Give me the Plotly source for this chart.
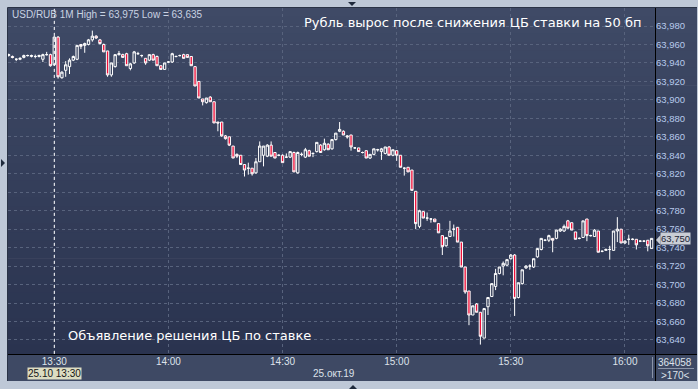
import pandas as pd
import plotly.graph_objects as go

# ---------------- data (1-minute candles, USD/RUB, 25.10.2019 13:18 - 16:07) ----------------
start_time = "2019-10-25 13:18"
opens = [63.948,63.947,63.944,63.944,63.946,63.948,63.947,63.947,63.947,63.944,
         63.949,63.949,63.938,63.968,63.924,63.932,63.936,63.943,63.944,63.960,
         63.959,63.960,63.965,63.969,63.965,63.960,63.953,63.927,63.936,63.949,
         63.949,63.950,63.934,63.940,63.950,63.948,63.945,63.943,63.949,63.947,
         63.937,63.933,63.941,63.941,63.947,63.948,63.949,63.949,63.947,63.936,
         63.920,63.901,63.897,63.903,63.898,63.876,63.876,63.861,63.860,63.850,
         63.841,63.840,63.830,63.826,63.826,63.821,63.833,63.840,63.839,63.851,
         63.843,63.840,63.840,63.838,63.838,63.843,63.821,63.841,63.838,63.845,
         63.842,63.844,63.851,63.846,63.852,63.847,63.857,63.866,63.866,63.861,
         63.862,63.848,63.848,63.843,63.845,63.837,63.841,63.846,63.844,63.842,
         63.849,63.840,63.845,63.840,63.826,63.827,63.824,63.801,63.763,63.779,
         63.772,63.771,63.771,63.766,63.753,63.742,63.752,63.760,63.762,63.746,
         63.719,63.693,63.667,63.679,63.670,63.642,63.676,63.687,63.698,63.712,
         63.720,63.721,63.728,63.732,63.686,63.701,63.718,63.720,63.719,63.730,
         63.738,63.748,63.748,63.750,63.750,63.758,63.758,63.769,63.767,63.757,
         63.750,63.751,63.771,63.753,63.752,63.758,63.736,63.737,63.738,63.737,
         63.758,63.760,63.745,63.749,63.749,63.749,63.747,63.747,63.748,63.739]
highs = [63.950,63.948,63.945,63.946,63.949,63.949,63.949,63.949,63.949,63.950,
         63.952,63.950,63.969,63.969,63.931,63.942,63.945,63.948,63.959,63.960,
         63.962,63.966,63.975,63.970,63.966,63.961,63.953,63.940,63.949,63.953,
         63.950,63.951,63.940,63.953,63.952,63.949,63.945,63.949,63.950,63.948,
         63.937,63.940,63.942,63.951,63.948,63.949,63.950,63.949,63.947,63.936,
         63.920,63.901,63.902,63.904,63.898,63.876,63.876,63.862,63.860,63.850,
         63.842,63.840,63.830,63.832,63.826,63.837,63.855,63.850,63.852,63.855,
         63.843,63.841,63.841,63.842,63.844,63.844,63.844,63.843,63.848,63.846,
         63.843,63.854,63.852,63.858,63.853,63.857,63.864,63.876,63.867,63.862,
         63.862,63.849,63.848,63.844,63.845,63.841,63.847,63.847,63.848,63.849,
         63.850,63.846,63.845,63.840,63.827,63.827,63.824,63.801,63.781,63.779,
         63.778,63.772,63.771,63.766,63.753,63.751,63.769,63.765,63.762,63.746,
         63.719,63.693,63.677,63.680,63.670,63.674,63.686,63.701,63.717,63.719,
         63.725,63.727,63.733,63.733,63.702,63.716,63.721,63.722,63.728,63.739,
         63.750,63.749,63.754,63.750,63.759,63.761,63.765,63.770,63.767,63.757,
         63.751,63.769,63.771,63.754,63.760,63.758,63.737,63.739,63.742,63.758,
         63.773,63.760,63.748,63.754,63.750,63.749,63.748,63.748,63.748,63.750]
lows = [63.947,63.945,63.942,63.943,63.945,63.947,63.946,63.945,63.946,63.941,
        63.948,63.936,63.937,63.923,63.923,63.925,63.928,63.942,63.943,63.955,
        63.951,63.959,63.963,63.966,63.960,63.952,63.925,63.925,63.935,63.948,
        63.946,63.937,63.932,63.939,63.949,63.946,63.938,63.942,63.943,63.937,
        63.933,63.933,63.940,63.940,63.946,63.947,63.945,63.946,63.937,63.915,
        63.902,63.894,63.896,63.898,63.875,63.866,63.860,63.857,63.850,63.837,
        63.837,63.830,63.817,63.819,63.818,63.820,63.833,63.828,63.838,63.839,
        63.837,63.839,63.832,63.837,63.837,63.822,63.820,63.839,63.837,63.839,
        63.838,63.843,63.843,63.845,63.846,63.846,63.856,63.865,63.862,63.858,
        63.845,63.847,63.844,63.842,63.837,63.836,63.840,63.844,63.835,63.841,
        63.840,63.839,63.834,63.827,63.818,63.822,63.802,63.760,63.761,63.772,
        63.769,63.767,63.768,63.756,63.732,63.741,63.752,63.752,63.746,63.719,
        63.690,63.656,63.667,63.670,63.635,63.642,63.667,63.687,63.694,63.711,
        63.710,63.720,63.727,63.666,63.685,63.700,63.717,63.716,63.718,63.729,
        63.737,63.747,63.746,63.735,63.749,63.757,63.757,63.761,63.759,63.749,
        63.749,63.751,63.747,63.752,63.752,63.735,63.735,63.737,63.727,63.737,
        63.746,63.745,63.744,63.743,63.748,63.738,63.746,63.746,63.736,63.739]
closes = [63.949,63.946,63.944,63.945,63.948,63.948,63.948,63.947,63.948,63.949,
          63.949,63.937,63.968,63.925,63.930,63.938,63.943,63.947,63.959,63.958,
          63.961,63.965,63.969,63.967,63.961,63.952,63.927,63.940,63.949,63.950,
          63.946,63.937,63.939,63.952,63.950,63.948,63.940,63.949,63.943,63.937,
          63.933,63.940,63.941,63.950,63.947,63.948,63.945,63.946,63.937,63.915,
          63.902,63.898,63.902,63.898,63.875,63.875,63.861,63.858,63.851,63.837,
          63.839,63.830,63.824,63.826,63.820,63.833,63.850,63.850,63.851,63.839,
          63.837,63.840,63.832,63.838,63.844,63.822,63.843,63.841,63.846,63.839,
          63.842,63.854,63.843,63.853,63.846,63.857,63.864,63.868,63.862,63.860,
          63.849,63.848,63.844,63.843,63.837,63.841,63.847,63.846,63.847,63.849,
          63.840,63.846,63.840,63.827,63.826,63.822,63.802,63.766,63.780,63.772,
          63.772,63.771,63.768,63.756,63.741,63.751,63.758,63.760,63.746,63.719,
          63.692,63.667,63.677,63.670,63.644,63.674,63.686,63.701,63.712,63.719,
          63.723,63.727,63.732,63.685,63.702,63.716,63.720,63.720,63.728,63.739,
          63.750,63.748,63.753,63.748,63.759,63.760,63.763,63.761,63.759,63.749,
          63.750,63.769,63.753,63.753,63.759,63.735,63.736,63.738,63.738,63.758,
          63.760,63.745,63.747,63.749,63.749,63.743,63.747,63.747,63.742,63.750]

title_text = "Рубль вырос после снижения ЦБ ставки на 50 бп"
header_text = "USD/RUB 1M High = 63,975 Low = 63,635"
event_text = "Объявление решения ЦБ по ставке"
event_time = "2019-10-25 13:30"
last_price = 63.750
last_price_label = "63,750"
date_label = "25.окт.19"
cursor_label = "25.10 13:30"
volume_label = "364058"
count_label = ">170<"

times = pd.date_range(start_time, periods=len(opens), freq="min")

# ---------------- geometry helpers (pixels -> paper) ----------------
W, H = 698, 389
L, R, T, B = 8, 655, 8, 354
def px(x):
    return (x - L) / (R - L)
def py(y):
    return (B - y) / (B - T)

fig = go.Figure()
fig.add_trace(go.Candlestick(
    x=times, open=opens, high=highs, low=lows, close=closes,
    increasing=dict(line=dict(color="white", width=1), fillcolor="rgba(0,0,0,0)"),
    decreasing=dict(line=dict(color="white", width=1), fillcolor="#f0103a"),
    hoverinfo="skip", showlegend=False,
))

shapes = []
# gradient background of chart + price-axis area
n = 40
top_c = (63, 74, 102)
bot_c = (42, 51, 79)
for k in range(n):
    y0 = T + (B - T) * k / n
    y1 = T + (B - T) * (k + 1) / n
    f = (k + 0.5) / n
    c = tuple(int(round(top_c[j] + (bot_c[j] - top_c[j]) * f)) for j in range(3))
    shapes.append(dict(type="rect", xref="paper", yref="paper", layer="below",
                       x0=px(L), x1=px(697), y0=py(y1), y1=py(y0) + 0.002,
                       fillcolor="rgb(%d,%d,%d)" % c, line=dict(width=0)))
# time-axis band
shapes.append(dict(type="rect", xref="paper", yref="paper", layer="below",
                   x0=px(L), x1=px(697), y0=py(381), y1=py(B),
                   fillcolor="#3e4964", line=dict(width=0)))
# frame inner border
shapes.append(dict(type="line", xref="paper", yref="paper", layer="below",
                   x0=px(7.5), x1=px(7.5), y0=py(381), y1=py(7.5),
                   line=dict(color="#2a3346", width=1)))
shapes.append(dict(type="line", xref="paper", yref="paper", layer="below",
                   x0=px(7.5), x1=px(697), y0=py(7.5), y1=py(7.5),
                   line=dict(color="#2a3346", width=1)))
# black axis lines
shapes.append(dict(type="line", xref="paper", yref="paper", layer="above",
                   x0=px(655.5), x1=px(655.5), y0=py(381), y1=py(8),
                   line=dict(color="black", width=1)))
shapes.append(dict(type="line", xref="paper", yref="paper", layer="above",
                   x0=px(8), x1=px(697), y0=py(354.5), y1=py(354.5),
                   line=dict(color="black", width=1)))
# bottom-right info box
shapes.append(dict(type="line", xref="paper", yref="paper", layer="above",
                   x0=px(652.5), x1=px(652.5), y0=py(378), y1=py(357),
                   line=dict(color="#8a94a8", width=1)))
shapes.append(dict(type="line", xref="paper", yref="paper", layer="above",
                   x0=px(658), x1=px(694), y0=py(368.5), y1=py(368.5),
                   line=dict(color="#8a94a8", width=1)))
# event line at 13:30
shapes.append(dict(type="line", xref="x", yref="paper", layer="above",
                   x0=event_time, x1=event_time, y0=0, y1=1,
                   line=dict(color="white", width=1, dash="dot")))
# last price arrow
shapes.append(dict(type="path", xref="paper", yref="paper", layer="above",
                   path="M %f %f L %f %f L %f %f Z" % (px(656), py(240), px(660.5), py(235), px(660.5), py(245)),
                   fillcolor="#c9cdd5", line=dict(width=0)))
# small dark triangles on the frame
def tri(points):
    return dict(type="path", xref="paper", yref="paper", layer="above",
                path="M " + " L ".join("%f %f" % (px(a), py(b)) for a, b in points) + " Z",
                fillcolor="#1f2a3c", line=dict(width=0))
shapes.append(tri([(348, 2), (356, 2), (352, 6)]))
shapes.append(tri([(1, 159), (1, 167), (5, 163)]))
shapes.append(tri([(349, 389), (357, 389), (353, 385)]))

annotations = [
    dict(text=header_text, xref="paper", yref="paper", x=px(10), y=py(15),
         xanchor="left", yanchor="middle", showarrow=False,
         font=dict(family="Liberation Sans, Arial", size=10, color="#c9d2e2")),
    dict(text=title_text, xref="paper", yref="paper", x=px(644), y=py(22.5),
         xanchor="right", yanchor="middle", showarrow=False,
         font=dict(family="DejaVu Sans", size=13, color="white")),
    dict(text=event_text, xref="paper", yref="paper", x=px(66), y=py(335.5),
         xanchor="left", yanchor="middle", showarrow=False,
         font=dict(family="DejaVu Sans", size=13, color="white")),
    dict(text=last_price_label, xref="paper", yref="y", x=px(660), y=last_price,
         xanchor="left", yanchor="middle", showarrow=False, bgcolor="#c9cdd5",
         borderpad=0, font=dict(family="Liberation Sans, Arial", size=9.5, color="#1b2333")),
    dict(text=cursor_label, xref="paper", yref="paper", x=px(54.5), y=py(373.5),
         xanchor="center", yanchor="middle", showarrow=False, bgcolor="#dcdcc2",
         borderpad=0, font=dict(family="Liberation Sans, Arial", size=10, color="#151515")),
    dict(text=date_label, xref="paper", yref="paper", x=px(334), y=py(373.5),
         xanchor="center", yanchor="middle", showarrow=False,
         font=dict(family="Liberation Sans, Arial", size=10, color="#dde2ea")),
    dict(text=volume_label, xref="paper", yref="paper", x=px(675), y=py(362),
         xanchor="center", yanchor="middle", showarrow=False,
         font=dict(family="Liberation Sans, Arial", size=10, color="#dde2ea")),
    dict(text=count_label, xref="paper", yref="paper", x=px(675), y=py(375),
         xanchor="center", yanchor="middle", showarrow=False,
         font=dict(family="Liberation Sans, Arial", size=10, color="#dde2ea")),
]

x_left = pd.Timestamp(start_time) - pd.Timedelta(seconds=10)
x_right = pd.Timestamp(start_time) + pd.Timedelta(minutes=169.9)

fig.update_layout(
    width=W, height=H,
    margin=dict(l=L, r=W - R, t=T, b=H - B, pad=0),
    paper_bgcolor="#bec8d7",
    plot_bgcolor="rgba(0,0,0,0)",
    separators=", ",
    boxgap=0.12,
    shapes=shapes,
    annotations=annotations,
    showlegend=False,
    xaxis=dict(
        type="date", range=[x_left, x_right],
        rangeslider=dict(visible=False),
        tickformat="%H:%M", tick0=event_time, dtick=30 * 60 * 1000,
        showgrid=True, gridcolor="#58637d", gridwidth=1, griddash="3px,3px",
        zeroline=False, showline=False, ticks="",
        tickfont=dict(family="Liberation Sans, Arial", size=10, color="#dde2ea"),
    ),
    yaxis=dict(
        side="right", range=[63.6248, 63.9995],
        tick0=63.64, dtick=0.02, tickformat=".3f",
        showgrid=True, gridcolor="#58637d", gridwidth=1, griddash="3px,3px",
        zeroline=False, showline=False, ticks="",
        tickfont=dict(family="Liberation Sans, Arial", size=9.5, color="#b7caec"),
    ),
)

fig.write_html("out.html")
